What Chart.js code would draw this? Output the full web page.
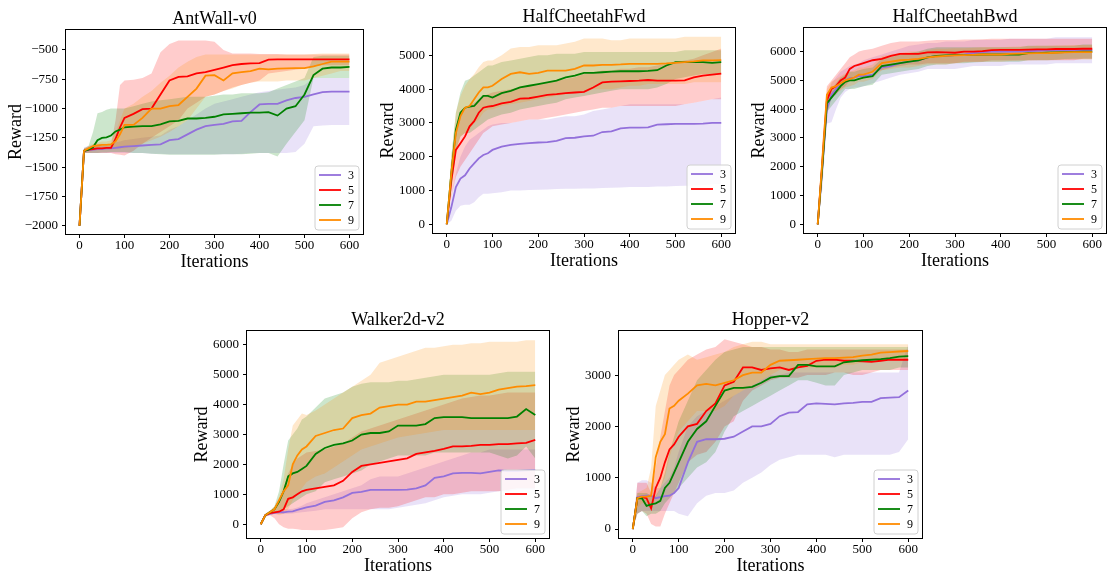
<!DOCTYPE html>
<html><head><meta charset="utf-8">
<script src="https://cdn.jsdelivr.net/npm/chart.js@4.4.0/dist/chart.umd.min.js"></script>
<style>
html,body{margin:0;padding:0;background:#fff;overflow:hidden;}
#wrap{position:relative;width:1110px;height:573px;overflow:hidden;background:#fff;}
canvas{position:absolute;}
</style></head><body><div id="wrap"></div>
<script>
const iterations = [0,10,20,30,40,50,60,70,80,90,100,120,140,160,180,200,220,240,260,280,300,320,340,360,380,400,420,440,460,480,500,520,540,560,580,600];
const seriesLabels = ['3','5','7','9'];
const xTicks = [0,100,200,300,400,500,600];

// AntWall-v0
const awTicks = [-2000,-1750,-1500,-1250,-1000,-750,-500];
const aw_m3 = [-2000,-1360,-1355,-1350,-1345,-1345,-1340,-1340,-1335,-1330,-1325,-1320,-1315,-1310,-1305,-1270,-1260,-1220,-1180,-1150,-1140,-1130,-1110,-1105,-1030,-965,-960,-960,-930,-910,-900,-880,-860,-855,-855,-855];
const aw_u3 = [-2000,-1330,-1320,-1310,-1300,-1300,-1300,-1300,-1290,-1280,-1270,-1260,-1250,-1240,-1230,-1180,-1150,-1100,-1050,-1000,-960,-940,-920,-900,-880,-860,-850,-840,-830,-820,-800,-740,-740,-740,-740,-740];
const aw_l3 = [-2000,-1380,-1380,-1380,-1380,-1380,-1380,-1380,-1380,-1380,-1380,-1380,-1380,-1385,-1385,-1390,-1390,-1390,-1390,-1390,-1390,-1390,-1390,-1385,-1380,-1380,-1380,-1380,-1380,-1370,-1300,-1150,-1145,-1140,-1140,-1140];
const aw_m5 = [-2000,-1360,-1350,-1345,-1340,-1340,-1335,-1335,-1260,-1160,-1080,-1045,-1005,-1000,-880,-760,-730,-725,-700,-690,-670,-650,-630,-620,-615,-612,-582,-580,-580,-580,-580,-580,-580,-580,-580,-580];
const aw_u5 = [-2000,-1340,-1330,-1320,-1320,-1320,-1320,-1310,-1100,-800,-760,-755,-740,-700,-520,-450,-420,-420,-420,-420,-430,-500,-530,-530,-530,-535,-535,-535,-540,-540,-540,-540,-540,-540,-540,-540];
const aw_l5 = [-2000,-1380,-1380,-1380,-1380,-1380,-1380,-1380,-1390,-1395,-1400,-1360,-1300,-1250,-1200,-1150,-1100,-1000,-950,-900,-880,-850,-820,-800,-780,-760,-700,-690,-680,-670,-660,-640,-630,-630,-630,-630];
const aw_m7 = [-2000,-1360,-1350,-1330,-1270,-1250,-1245,-1230,-1195,-1180,-1160,-1155,-1150,-1150,-1135,-1110,-1105,-1085,-1085,-1080,-1070,-1050,-1045,-1040,-1035,-1035,-1030,-1060,-1000,-980,-880,-715,-660,-650,-650,-645];
const aw_u7 = [-2000,-1340,-1320,-1200,-1040,-1030,-1010,-1000,-1000,-1000,-1000,-980,-960,-940,-930,-920,-910,-900,-900,-900,-890,-880,-880,-870,-870,-870,-860,-830,-800,-770,-740,-560,-550,-550,-550,-550];
const aw_l7 = [-2000,-1380,-1380,-1380,-1380,-1375,-1375,-1370,-1370,-1370,-1370,-1380,-1380,-1385,-1390,-1395,-1395,-1395,-1395,-1395,-1395,-1390,-1390,-1390,-1385,-1380,-1380,-1410,-1300,-1200,-1100,-740,-740,-740,-740,-740];
const aw_m9 = [-2000,-1360,-1340,-1320,-1315,-1310,-1310,-1305,-1280,-1220,-1140,-1140,-1080,-1000,-1000,-980,-970,-900,-830,-720,-715,-760,-700,-690,-680,-660,-665,-660,-658,-655,-655,-640,-620,-600,-600,-600];
const aw_u9 = [-2000,-1340,-1320,-1300,-1290,-1280,-1280,-1270,-1200,-1100,-1000,-960,-900,-850,-780,-720,-650,-600,-560,-540,-540,-540,-540,-540,-540,-540,-540,-540,-540,-540,-540,-535,-530,-530,-530,-530];
const aw_l9 = [-2000,-1380,-1370,-1360,-1350,-1350,-1350,-1345,-1340,-1340,-1340,-1320,-1300,-1270,-1240,-1200,-1150,-1100,-1000,-900,-880,-850,-830,-800,-780,-770,-770,-770,-760,-760,-760,-740,-720,-700,-680,-680];

// HalfCheetahFwd
const hfTicks = [0,1000,2000,3000,4000,5000];
const hf_m3 = [0,500,1100,1350,1450,1650,1800,1950,2050,2100,2200,2300,2350,2380,2400,2420,2430,2470,2550,2560,2600,2620,2730,2750,2840,2860,2860,2870,2950,2960,2970,2970,2970,2980,3000,3000];
const hf_u3 = [0,800,1500,2000,2300,2500,2600,2700,2800,2900,2950,3000,3000,3050,3100,3100,3100,3150,3200,3200,3250,3350,3400,3450,3500,3550,3550,3550,3550,3550,3550,3550,3600,3650,3700,3750];
const hf_l3 = [0,100,400,550,580,580,650,800,900,900,920,950,1000,1000,1010,1020,1030,1040,1050,1050,1060,1060,1070,1080,1090,1100,1100,1100,1120,1120,1130,1140,1150,1160,1180,1200];
const hf_m5 = [0,1300,2200,2400,2600,2900,3050,3300,3450,3480,3500,3580,3620,3720,3730,3780,3830,3850,3880,3900,3920,4050,4200,4220,4230,4240,4250,4270,4250,4250,4250,4260,4350,4400,4430,4460];
const hf_u5 = [0,1800,2800,3200,3400,3500,3600,3700,3800,3850,3900,3950,4000,4050,4100,4150,4200,4250,4300,4350,4450,4500,4550,4550,4600,4600,4650,4650,4700,4750,4800,4850,4900,5000,5100,5200];
const hf_l5 = [0,800,1400,1700,1900,2100,2300,2500,2700,2800,2900,2950,3000,3050,3100,3100,3150,3200,3250,3300,3350,3400,3450,3450,3500,3500,3500,3500,3500,3500,3500,3550,3600,3650,3700,3700];
const hf_m7 = [0,1500,2800,3300,3450,3480,3500,3650,3800,3800,3750,3880,3950,4050,4100,4150,4200,4250,4350,4400,4480,4480,4500,4520,4530,4530,4530,4540,4560,4700,4800,4800,4800,4800,4780,4800];
const hf_u7 = [0,2000,3300,3900,4250,4300,4400,4500,4600,4700,4700,4800,4850,4900,4950,5000,5000,5050,5050,5050,5100,5100,5100,5100,5100,5100,5100,5100,5100,5100,5100,5150,5150,5150,5150,5150];
const hf_l7 = [0,1000,2200,2600,2700,2700,2800,2900,3000,3100,3150,3250,3300,3400,3450,3500,3550,3600,3700,3750,3800,3850,3900,3950,4000,4000,4000,4000,4050,4150,4300,4350,4400,4450,4450,4450];
const hf_m9 = [0,1500,2700,3200,3450,3500,3700,3900,4050,4050,4100,4300,4450,4500,4450,4480,4550,4550,4550,4600,4700,4700,4720,4720,4730,4750,4750,4750,4750,4760,4780,4800,4820,4850,4850,4860];
const hf_u9 = [0,2000,3300,3800,4100,4300,4450,4650,4800,4850,4850,5000,5200,5250,5250,5300,5300,5300,5350,5400,5500,5500,5500,5450,5450,5500,5500,5500,5500,5500,5500,5550,5550,5550,5550,5550];
const hf_l9 = [0,1000,2100,2600,2700,2800,3000,3100,3300,3400,3400,3500,3550,3600,3650,3700,3750,3800,3850,3900,3900,4000,4000,4000,4050,4100,4100,4150,4150,4150,4150,4150,4200,4200,4200,4200];

// HalfCheetahBwd
const hbTicks = [0,1000,2000,3000,4000,5000,6000];
const hb_m3 = [0,2000,4000,4500,4700,4900,5000,5080,5100,5150,5150,5200,5450,5500,5600,5650,5700,5800,5850,5850,5880,5900,5950,5980,6000,6000,6000,6000,6020,6030,6040,6050,6050,6050,6050,6050];
const hb_u3 = [0,2600,4400,4900,5100,5300,5400,5500,5550,5600,5700,5800,5900,6000,6100,6200,6250,6300,6300,6350,6350,6350,6400,6400,6400,6400,6450,6450,6450,6450,6450,6500,6500,6500,6500,6500];
const hb_l3 = [0,1200,3500,3550,4000,4400,4600,4700,4750,4750,4800,4900,5000,5100,5200,5250,5300,5400,5400,5400,5400,5450,5500,5500,5500,5500,5550,5550,5550,5550,5550,5600,5600,5600,5600,5600];
const hb_m5 = [0,2100,4300,4700,4800,5000,5100,5400,5500,5550,5600,5700,5750,5850,5920,5920,5920,5970,5980,5970,5960,6000,6000,6020,6050,6060,6060,6060,6070,6080,6080,6090,6090,6090,6100,6100];
const hb_u5 = [0,2800,4800,5000,5200,5400,5600,5800,5900,6000,6050,6100,6200,6300,6350,6350,6350,6380,6400,6400,6400,6420,6420,6430,6450,6450,6450,6450,6450,6450,6450,6450,6450,6450,6450,6450];
const hb_l5 = [0,1500,3800,4400,4500,4700,4800,5000,5100,5150,5200,5300,5350,5450,5500,5550,5550,5600,5600,5600,5600,5650,5650,5650,5700,5700,5700,5700,5700,5700,5700,5700,5700,5700,5750,5750];
const hb_m7 = [0,2000,4200,4400,4600,4800,4950,5000,5000,5050,5100,5150,5500,5550,5600,5650,5700,5800,5850,5870,5880,5880,5890,5900,5900,5900,5900,5900,5950,5950,5960,5970,5980,5990,6000,6000];
const hb_u7 = [0,2500,4500,4700,4900,5100,5200,5300,5300,5350,5400,5450,5750,5800,5900,5950,6000,6100,6150,6150,6150,6150,6150,6150,6150,6150,6150,6150,6200,6200,6200,6200,6200,6200,6250,6250];
const hb_l7 = [0,1500,3900,4100,4300,4500,4700,4700,4700,4750,4800,4850,5200,5250,5300,5350,5400,5500,5550,5550,5600,5600,5620,5640,5650,5650,5650,5650,5700,5700,5700,5720,5740,5750,5750,5750];
const hb_m9 = [0,2200,4500,4750,4800,4900,5000,5050,5100,5200,5200,5300,5600,5650,5700,5720,5750,5800,5830,5850,5870,5880,5890,5900,5900,5900,5920,5930,5940,5950,5950,5960,5970,5980,5980,5980];
const hb_u9 = [0,2800,4700,4950,5050,5150,5250,5300,5350,5450,5450,5550,5850,5900,5950,6000,6000,6050,6100,6100,6120,6120,6130,6150,6150,6150,6170,6180,6190,6200,6200,6210,6220,6230,6230,6230];
const hb_l9 = [0,1600,4300,4550,4550,4650,4750,4800,4850,4950,4950,5050,5350,5400,5450,5450,5500,5550,5550,5550,5600,5620,5640,5650,5650,5650,5670,5680,5690,5700,5700,5710,5720,5730,5730,5730];

// Walker2d-v2
const wkTicks = [0,1000,2000,3000,4000,5000,6000];
const wk_m3 = [0,300,350,380,400,400,420,430,480,520,560,620,750,800,900,1050,1080,1150,1150,1150,1150,1160,1200,1300,1550,1600,1700,1720,1720,1700,1750,1800,1780,1780,1800,1820];
const wk_u3 = [0,330,380,420,460,500,500,520,560,620,700,800,900,1000,1100,1200,1300,1500,1600,1600,1600,1700,1800,1900,2000,2100,2200,2300,2400,2400,2500,2500,2500,2500,2500,2500];
const wk_l3 = [0,270,320,340,350,350,350,360,380,400,420,450,500,500,500,500,500,500,500,500,550,600,650,700,800,900,950,1000,1000,1000,1050,1100,1100,1150,1150,1150];
const wk_m5 = [0,300,370,400,420,500,850,900,1000,1100,1150,1200,1250,1300,1450,1750,1950,2000,2050,2100,2150,2200,2350,2400,2450,2520,2600,2600,2620,2650,2650,2680,2680,2700,2720,2820];
const wk_u5 = [0,350,450,550,800,1200,1700,2000,2200,2300,2400,2450,2500,2600,2700,2900,3100,3200,3300,3400,3500,3600,3700,3800,3900,4000,4100,4200,4250,4300,4300,4350,4400,4400,4400,4400];
const wk_l5 = [0,250,300,200,0,-100,-150,-150,-170,-190,-190,-200,-190,-150,-100,200,400,500,550,550,600,700,800,900,900,1000,1000,1050,1100,1100,1100,1100,1150,1200,1200,1200];
const wk_m7 = [0,300,400,500,750,1100,1600,1700,1750,1850,1950,2350,2550,2650,2700,2800,3000,3050,3050,3100,3300,3300,3300,3350,3550,3580,3580,3580,3550,3550,3550,3550,3550,3600,3850,3650];
const wk_u7 = [0,350,450,600,1100,2000,2800,3000,3200,3500,3600,3900,4200,4300,4400,4600,4700,4750,4750,4750,4800,4800,4850,4900,4950,5000,5000,5000,5000,5000,5000,5050,5100,5100,5100,5100];
const wk_l7 = [0,250,350,400,450,500,600,700,800,900,1000,1100,1400,1500,1600,1700,1800,2000,2100,2200,2300,2300,2300,2300,2400,2400,2400,2400,2400,2400,2400,2300,2200,2300,2600,2200];
const wk_m9 = [0,300,400,500,800,1100,1300,2000,2300,2500,2600,2950,3050,3150,3200,3550,3650,3700,3900,3950,4000,4000,4100,4100,4150,4200,4250,4300,4400,4350,4400,4500,4550,4600,4620,4650];
const wk_u9 = [0,350,450,600,900,1500,2500,3300,3500,3700,3650,3800,4000,4200,4400,4600,4800,5000,5400,5500,5600,5700,5800,5900,5900,5950,6000,6000,6050,6050,6100,6100,6100,6100,6150,6150];
const wk_l9 = [0,250,300,350,300,350,500,800,1000,1200,1400,1600,1700,1900,2100,2300,2500,2600,2700,2800,2900,2950,3000,3050,3100,3150,3150,3150,3150,3150,3150,3150,3150,3150,3150,3150];

// Hopper-v2
const hpTicks = [0,1000,2000,3000];
const hp_m3 = [0,620,640,650,650,600,620,640,650,700,800,1300,1700,1750,1750,1760,1800,1900,2000,2000,2050,2200,2270,2280,2430,2450,2440,2430,2450,2460,2480,2480,2550,2560,2570,2700];
const hp_u3 = [0,900,950,950,900,800,800,900,1000,1200,1500,2000,2200,2300,2400,2500,2600,2700,2800,2900,3000,3000,3050,3050,3050,3050,3050,3050,3050,3050,3050,3050,3050,3050,3050,3600];
const hp_l3 = [0,300,350,350,350,350,350,350,350,350,300,250,500,650,700,700,750,900,1000,1100,1250,1350,1400,1450,1450,1450,1450,1400,1450,1450,1450,1450,1450,1450,1500,1750];
const hp_m5 = [0,600,620,600,400,800,1000,1300,1550,1650,1800,2000,2050,2300,2450,2800,2870,3150,3150,3100,3130,3150,3100,3150,3180,3280,3300,3300,3280,3280,3270,3260,3280,3300,3300,3300];
const hp_u5 = [0,900,900,900,700,1200,1800,2300,2800,3000,3100,3300,3400,3500,3550,3700,3650,3600,3550,3550,3500,3500,3450,3450,3500,3500,3500,3500,3500,3500,3500,3500,3500,3500,3500,3500];
const hp_l5 = [0,300,350,300,100,50,50,300,500,700,900,1300,1450,1500,1700,2000,2100,2500,2700,2800,2900,2950,2950,2950,3000,3000,3000,3050,3050,3000,3000,3050,3100,3100,3100,3100];
const hp_m7 = [0,600,600,450,480,500,550,800,900,1100,1300,1700,1950,2100,2400,2700,2750,2750,2770,2850,2950,2980,2980,3200,3200,3170,3170,3170,3250,3270,3290,3300,3310,3330,3360,3370];
const hp_u7 = [0,700,700,700,650,650,800,1100,1500,1800,2100,2500,2900,3100,3300,3450,3500,3550,3550,3550,3550,3550,3550,3550,3550,3550,3550,3550,3550,3550,3550,3550,3550,3550,3550,3550];
const hp_l7 = [0,300,350,250,300,300,350,500,600,700,800,1000,1200,1300,1500,1900,2200,2300,2400,2500,2600,2700,2800,2900,2900,2850,2800,2800,3000,3050,3100,3100,3100,3100,3150,3150];
const hp_m9 = [0,600,630,630,650,1400,1700,1850,2350,2400,2500,2640,2800,2830,2800,2850,2900,3000,3050,3050,3200,3280,3290,3300,3310,3320,3330,3330,3340,3350,3380,3400,3440,3450,3460,3470];
const hp_u9 = [0,700,750,800,1200,2400,2700,3000,3100,3200,3300,3400,3300,3350,3400,3450,3550,3600,3650,3650,3600,3600,3600,3600,3600,3600,3600,3600,3600,3600,3600,3600,3600,3600,3600,3600];
const hp_l9 = [0,400,500,500,400,600,800,1000,1400,1700,1900,2100,2300,2300,2300,2400,2600,2700,2800,2900,3000,3100,3100,3150,3150,3150,3150,3150,3200,3200,3250,3300,3300,3300,3300,3300];

const COLORS = ['#9370DB','#FF0000','#008000','#FF8C00'];
const FONT = "'Liberation Serif','Times New Roman',serif";

const panels = [
  {title:'AntWall-v0', L:66, T:30, R:363, B:234, yW:61, yMin:-2070, yMax:-330, yTicks:awTicks,
   mean:[aw_m3,aw_m5,aw_m7,aw_m9], up:[aw_u3,aw_u5,aw_u7,aw_u9], lo:[aw_l3,aw_l5,aw_l7,aw_l9]},
  {title:'HalfCheetahFwd', L:433, T:28, R:735, B:233, yW:56, yMin:-260, yMax:5810, yTicks:hfTicks,
   mean:[hf_m3,hf_m5,hf_m7,hf_m9], up:[hf_u3,hf_u5,hf_u7,hf_u9], lo:[hf_l3,hf_l5,hf_l7,hf_l9]},
  {title:'HalfCheetahBwd', L:804, T:28, R:1106, B:233, yW:56, yMin:-300, yMax:6820, yTicks:hbTicks,
   mean:[hb_m3,hb_m5,hb_m7,hb_m9], up:[hb_u3,hb_u5,hb_u7,hb_u9], lo:[hb_l3,hb_l5,hb_l7,hb_l9]},
  {title:'Walker2d-v2', L:247, T:331, R:549, B:538, yW:56, yMin:-460, yMax:6460, yTicks:wkTicks,
   mean:[wk_m3,wk_m5,wk_m7,wk_m9], up:[wk_u3,wk_u5,wk_u7,wk_u9], lo:[wk_l3,wk_l5,wk_l7,wk_l9]},
  {title:'Hopper-v2', L:619, T:331, R:922, B:538, yW:56, yMin:-175, yMax:3860, yTicks:hpTicks,
   mean:[hp_m3,hp_m5,hp_m7,hp_m9], up:[hp_u3,hp_u5,hp_u7,hp_u9], lo:[hp_l3,hp_l5,hp_l7,hp_l9]}
];

function rgba(hex, a){ const n=parseInt(hex.slice(1),16); return 'rgba('+((n>>16)&255)+','+((n>>8)&255)+','+(n&255)+','+a+')'; }
function pts(ys){ return iterations.map((x,i)=>({x:x, y:ys[i]})); }
function fmt(v){ return (v<0?'\u2212':'') + Math.abs(v); }

const framePlugin = {
  id:'frame',
  afterDatasetsDraw(chart){
    const a = chart.chartArea, ctx = chart.ctx;
    ctx.save();
    ctx.strokeStyle = '#000'; ctx.lineWidth = 1;
    ctx.strokeRect(a.left-0.5, a.top-0.5, a.right-a.left+1, a.bottom-a.top+1);
    ctx.restore();
  }
};
const legendPlugin = {
  id:'miniLegend',
  afterDraw(chart){
    const a = chart.chartArea, ctx = chart.ctx;
    const w = 44, h = 64;
    const x = a.right - 4 - w, y = a.bottom - 4 - h, r = 3;
    ctx.save();
    ctx.beginPath();
    ctx.moveTo(x+r, y); ctx.lineTo(x+w-r, y); ctx.quadraticCurveTo(x+w, y, x+w, y+r);
    ctx.lineTo(x+w, y+h-r); ctx.quadraticCurveTo(x+w, y+h, x+w-r, y+h);
    ctx.lineTo(x+r, y+h); ctx.quadraticCurveTo(x, y+h, x, y+h-r);
    ctx.lineTo(x, y+r); ctx.quadraticCurveTo(x, y, x+r, y); ctx.closePath();
    ctx.fillStyle = 'rgba(255,255,255,0.85)'; ctx.fill();
    ctx.strokeStyle = '#d0d0d0'; ctx.lineWidth = 1; ctx.stroke();
    ctx.font = '12px ' + FONT; ctx.textBaseline = 'middle'; ctx.textAlign = 'left';
    for (let i=0;i<seriesLabels.length;i++){
      const ly = y + 9 + i*15;
      ctx.strokeStyle = COLORS[i]; ctx.lineWidth = 1.8;
      ctx.beginPath(); ctx.moveTo(x+4, ly); ctx.lineTo(x+26, ly); ctx.stroke();
      ctx.fillStyle = '#000'; ctx.fillText(seriesLabels[i], x+33, ly+0.5);
    }
    ctx.restore();
  }
};

const wrap = document.getElementById('wrap');
panels.forEach(p => {
  const padTop=4, padRight=4, padBottom=2, titleH=22, xAxisH=39;
  const W = p.yW;
  const cw = W + (p.R - p.L) + padRight;
  const ch = padTop + titleH + (p.B - p.T) + xAxisH + padBottom;
  const c = document.createElement('canvas');
  c.width = cw; c.height = ch;
  c.style.left = (p.L - W) + 'px'; c.style.top = (p.T - titleH - padTop) + 'px';
  c.style.width = cw + 'px'; c.style.height = ch + 'px';
  wrap.appendChild(c);

  const datasets = [];
  for (let k=3;k>=0;k--) {
    datasets.push({label:seriesLabels[k], data:pts(p.mean[k]), borderColor:COLORS[k], borderWidth:1.8,
      pointRadius:0, fill:false, tension:0});
  }
  for (let k=3;k>=0;k--) {
    datasets.push({label:'lo'+seriesLabels[k], data:pts(p.lo[k]), borderWidth:0, borderColor:'rgba(0,0,0,0)', pointRadius:0, fill:false, tension:0});
    datasets.push({label:'up'+seriesLabels[k], data:pts(p.up[k]), borderWidth:0, borderColor:'rgba(0,0,0,0)', pointRadius:0, fill:'-1',
      backgroundColor:rgba(COLORS[k],0.2), tension:0});
  }
  const tickFont = {family:FONT, size:13};
  const titleFont = {family:FONT, size:18, lineHeight:22/18, weight:'normal'};
  new Chart(c, {
    type:'line',
    data:{datasets},
    options:{
      responsive:false, animation:false, events:[],
      layout:{padding:{left:0, top:padTop, right:padRight, bottom:padBottom}},
      plugins:{
        legend:{display:false}, tooltip:{enabled:false},
        filler:{drawTime:'beforeDatasetsDraw'},
        title:{display:true, text:p.title, font:titleFont, color:'#000', padding:{top:0,bottom:0}, fullSize:false}
      },
      scales:{
        x:{type:'linear', min:-30, max:630,
          afterBuildTicks: s => { s.ticks = xTicks.map(v => ({value:v})); },
          afterFit: s => { s.height = xAxisH; },
          ticks:{font:tickFont, color:'#000', padding:0, maxRotation:0, autoSkip:false, callback:fmt},
          grid:{display:true, drawOnChartArea:false, drawTicks:true, tickLength:4, color:'#000'},
          border:{display:false},
          title:{display:true, text:'Iterations', font:titleFont, color:'#000', padding:{top:0,bottom:0}}
        },
        y:{type:'linear', min:p.yMin, max:p.yMax,
          afterBuildTicks: s => { s.ticks = p.yTicks.map(v => ({value:v})); },
          afterFit: s => { s.width = W; },
          ticks:{font:tickFont, color:'#000', padding:4, autoSkip:false, callback:fmt},
          grid:{display:true, drawOnChartArea:false, drawTicks:true, tickLength:4, color:'#000'},
          border:{display:false},
          title:{display:true, text:'Reward', font:titleFont, color:'#000', padding:{top:0,bottom:0}}
        }
      }
    },
    plugins:[framePlugin, legendPlugin]
  });
});
</script>
</body></html>
